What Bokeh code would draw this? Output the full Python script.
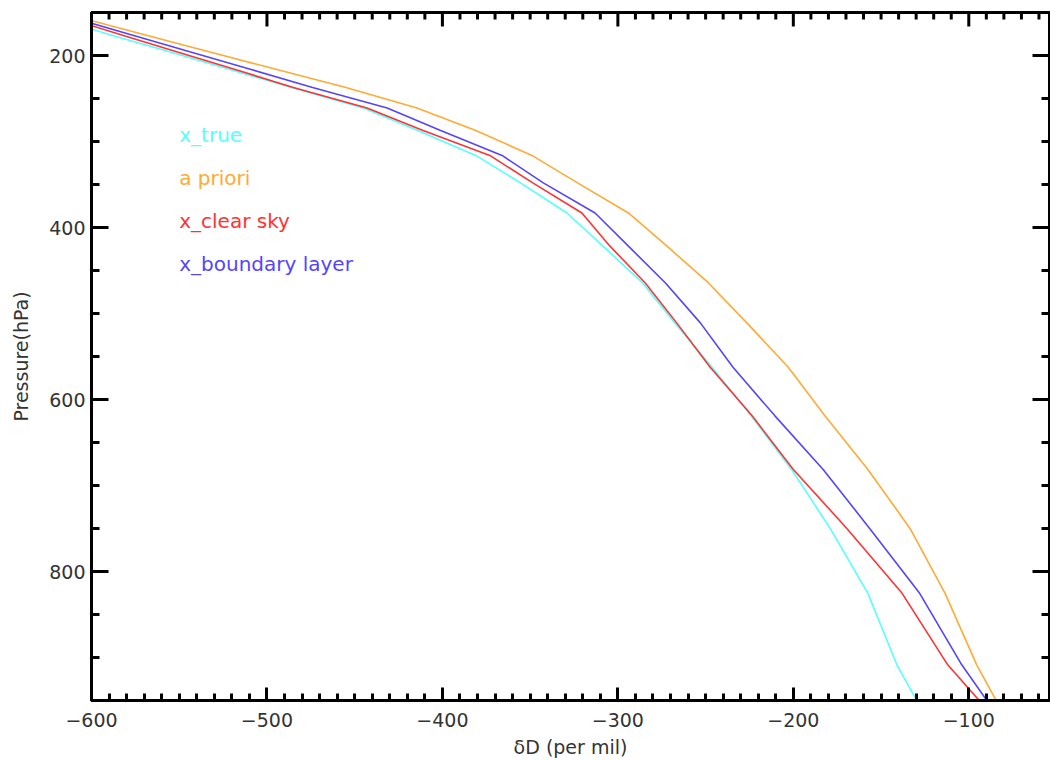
from bokeh.plotting import figure
from bokeh.models import LinearAxis, FixedTicker, Label
from bokeh.embed import file_html
from bokeh.resources import INLINE

# TES-like pressure grid (hPa)
pressure = [1000.0, 908.5, 825.4, 749.9, 681.3, 619.0, 562.3, 510.9, 464.2, 421.7,
            383.1, 348.1, 316.2, 287.3, 261.0, 237.1, 215.4, 195.7, 177.8, 161.6, 146.8]

x_true = [-116, -141, -157.5, -179, -201, -224, -246.5, -267.5, -286, -308.5,
          -329, -355.5, -381, -414, -445, -486, -522.5, -555.5, -586, -613, -638]
a_priori = [-71, -95.5, -113.5, -133.5, -157.5, -182, -203, -226.5, -248.5, -272,
            -294, -323, -349, -381, -414.5, -455, -496, -533, -566, -596, -624]
x_clear = [-72.5, -112, -138, -169.5, -200, -223.5, -247.5, -266.5, -284.5, -304.5,
           -320.5, -348.5, -373, -411, -443, -485, -519.5, -551.5, -580, -606, -630]
x_boundary = [-72.5, -104, -128, -156.5, -183, -210.5, -234.5, -253, -273, -294,
              -313, -342.5, -366, -401, -431.5, -474, -510.5, -544, -574, -601.5, -628]

series_names = ["x_true", "a priori", "x_clear sky", "x_boundary layer"]
series_colors = ["#55FFFF", "#FFAA33", "#FF3333", "#5544FF"]

x_major = [-600, -500, -400, -300, -200, -100]
x_minor = list(range(-600, -49, 10))
y_major = [200, 400, 600, 800]
y_minor = list(range(150, 951, 50))

FONT = "DejaVu Sans"
TXT = "#333333"

X0, X1 = -600, -54
Y0, Y1 = 950, 150
W, H = 1050, 761
BL, BR, BT, BB = 91, 1, 12, 61

p = figure(width=W, height=H, x_range=(X0, X1), y_range=(Y0, Y1),
           output_backend="svg", toolbar_location=None, x_axis_location=None,
           y_axis_location=None, min_border_left=BL, min_border_right=BR,
           min_border_top=BT, min_border_bottom=BB)
p.grid.visible = False
p.background_fill_color = "white"
p.outline_line_color = "black"
p.outline_line_width = 3
p.outline_line_alpha = 1.0

def style(ax, major_in, minor_in):
    ax.axis_line_width = 3
    ax.axis_line_color = "black"
    ax.major_tick_line_width = 3
    ax.minor_tick_line_width = 3
    ax.major_tick_line_color = "black"
    ax.minor_tick_line_color = "black"
    ax.major_tick_in = major_in
    ax.major_tick_out = 0
    ax.minor_tick_in = minor_in
    ax.minor_tick_out = 0
    ax.major_label_text_font = FONT
    ax.major_label_text_color = TXT
    ax.major_label_text_font_size = "19px"
    ax.axis_label_text_font = FONT
    ax.axis_label_text_color = TXT
    ax.axis_label_text_font_style = "normal"
    ax.axis_label_text_font_size = "19px"

xt = FixedTicker(ticks=x_major, minor_ticks=x_minor)
yt = FixedTicker(ticks=y_major, minor_ticks=y_minor)

bottom = LinearAxis(ticker=xt, axis_label="δD (per mil)")
style(bottom, 13, 7)
bottom.major_label_overrides = {v: "\u2212" + str(-v) for v in x_major}
bottom.major_label_standoff = 12
bottom.axis_label_standoff = 6
p.add_layout(bottom, "below")

left = LinearAxis(ticker=yt, axis_label="Pressure(hPa)")
style(left, 17, 8)
left.major_label_standoff = 6
left.axis_label_standoff = 14
p.add_layout(left, "left")

# inward ticks on the top and right frame edges (lengths converted from px)
px_per_x = (W - BL - BR) / (X1 - X0)
px_per_y = (H - BT - BB) / (Y0 - Y1)

def top_ticks(xs, length_px):
    dy = length_px / px_per_y
    p.segment(x0=xs, y0=[Y1] * len(xs), x1=xs, y1=[Y1 + dy] * len(xs),
              line_color="black", line_width=3)

def right_ticks(ys, length_px):
    dx = length_px / px_per_x
    p.segment(x0=[X1] * len(ys), y0=ys, x1=[X1 - dx] * len(ys), y1=ys,
              line_color="black", line_width=3)

top_ticks([v for v in x_minor if v not in x_major], 7)
top_ticks(x_major, 14)
right_ticks([v for v in y_minor if v not in y_major], 8)
right_ticks(y_major, 17)

all_x = [x_true, a_priori, x_clear, x_boundary]
for xs, c in zip(all_x, series_colors):
    p.line(xs, pressure, line_color=c, line_width=1.6)

for i, (name, c) in enumerate(zip(series_names, series_colors)):
    p.add_layout(Label(x=-550, y=293 + 50 * i, text=name, text_color=c,
                       text_font=FONT, text_font_size="20px",
                       text_baseline="middle", text_align="left"))

open("out.html", "w").write(file_html(p, INLINE))
